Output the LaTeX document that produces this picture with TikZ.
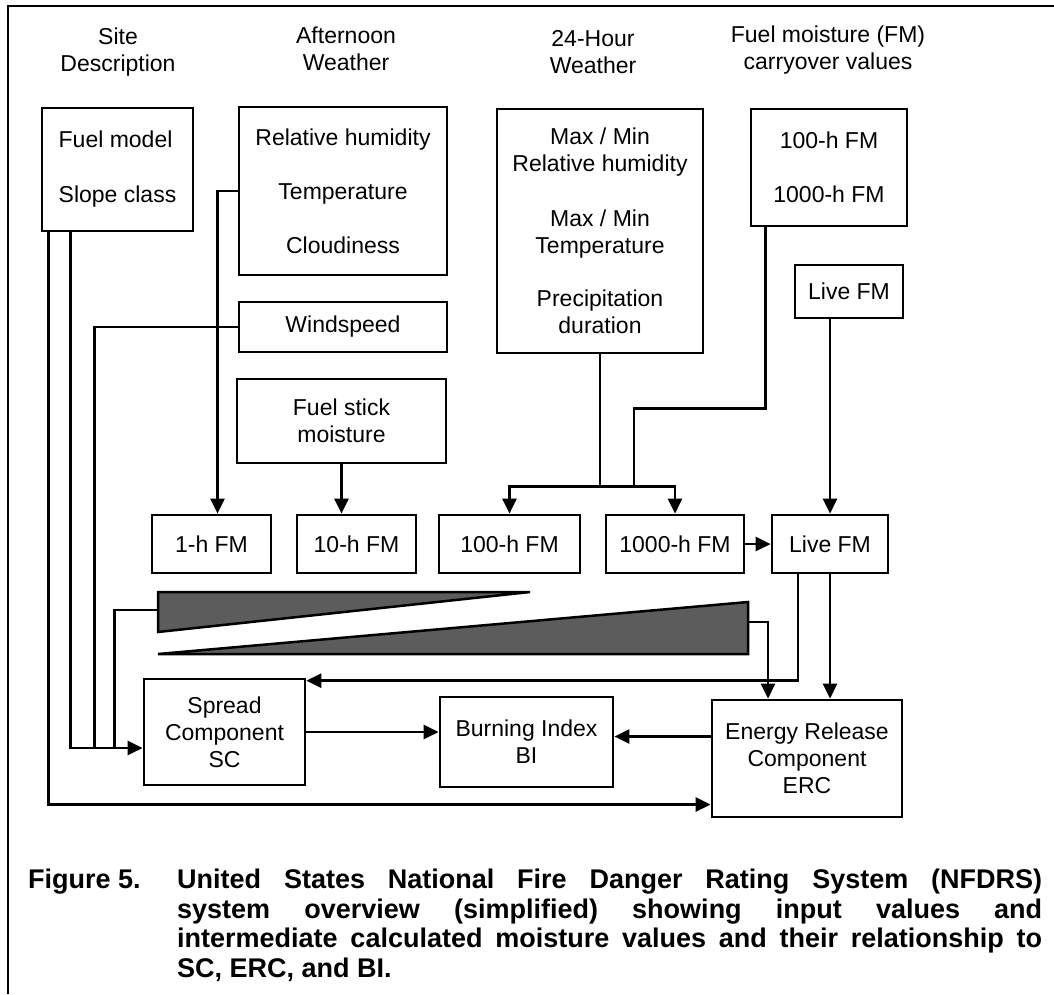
\documentclass[tikz,border=0pt]{standalone}
\usepackage{fontspec}
\setmainfont{Liberation Sans}
\usetikzlibrary{arrows.meta,calc}

\tikzset{
  box/.style={draw, line width=2.7pt, inner sep=0pt, align=center},
  head/.style={inner sep=0pt, align=center},
  link/.style={line width=2.7pt},
  arr/.style={link, -{Triangle[length=15pt,width=14pt]}},
  wedge/.style={draw, line width=2.5pt, fill=black!64, line join=miter},
  capt/.style={anchor=north west, inner sep=0pt, font=\bfseries\fontsize{27}{29.5}\selectfont}
}

\begin{document}
\begin{tikzpicture}[x=1pt, y=-1pt, font=\fontsize{23}{27}\selectfont]
    \useasboundingbox (0,0) rectangle (1054,994);

    % Cornice della pagina
    \draw[line width=1.5pt] (8,994) -- (8,6) -- (1054,6);

    % Intestazioni delle colonne
    \node[head] (sitehead) at (118,52) {Site\\Description};
    \node[head] (afthead) at (346,49) {Afternoon\\Weather};
    \node[head] (dayhead) at (593,52) {24-Hour\\Weather};
    \node[head] (carryhead) at (828,50) {Fuel moisture (FM)\\carryover values};

    % Valori di ingresso
    \node[box, minimum width=151pt, minimum height=123pt, align=left] (site) at (117.5,169.5) {Fuel model\\[28pt]Slope class};
    \node[box, minimum width=208pt, minimum height=168pt] (aft) at (343,191) {Relative humidity\\[27pt]Temperature\\[27pt]Cloudiness};
    \node[box, minimum width=208pt, minimum height=50pt] (wind) at (343,327) {Windspeed};
    \node[box, minimum width=209pt, minimum height=84pt] (stick) at (341.5,421) {Fuel stick\\moisture};
    \node[box, minimum width=206pt, minimum height=244pt] (day) at (600,231) {Max / Min\\Relative humidity\\[28pt]Max / Min\\Temperature\\[26pt]Precipitation\\duration};
    \node[box, minimum width=156pt, minimum height=117pt] (carry) at (829,167.5) {100-h FM\\[27pt]1000-h FM};
    \node[box, minimum width=108pt, minimum height=53pt] (livein) at (849,291.5) {Live FM};

    % Umidita' intermedie
    \node[box, minimum width=119pt, minimum height=58pt] (fm1) at (211.5,544) {1-h FM};
    \node[box, minimum width=119pt, minimum height=58pt] (fm10) at (356.5,544) {10-h FM};
    \node[box, minimum width=141pt, minimum height=58pt] (fm100) at (509.5,544) {100-h FM};
    \node[box, minimum width=138pt, minimum height=58pt] (fm1000) at (675,544) {1000-h FM};
    \node[box, minimum width=116pt, minimum height=58pt] (live) at (830,544) {Live FM};

    % Cunei
    \draw[wedge] (158,592) -- (530,592) -- (158,632) -- cycle;
    \draw[wedge] (158,654) -- (748,602) -- (748,654) -- cycle;
    \coordinate (wedgeA) at (158,610);
    \coordinate (wedgeB) at (748,622);

    % Componenti e indice
    \node[box, minimum width=161pt, minimum height=106pt] (sc) at (224.5,732) {Spread\\Component\\SC};
    \node[box, minimum width=173pt, minimum height=90pt] (bi) at (526.5,742) {Burning Index\\BI};
    \node[box, minimum width=190pt, minimum height=117pt] (erc) at (807,758.5) {Energy Release\\Component\\ERC};

    % Collegamenti
    \draw[arr] (aft.west) -| ([xshift=6pt]fm1.north);
    \draw[arr] (stick.south) -- (stick.south |- fm10.north);
    \coordinate (scin) at ([yshift=-16pt]sc.west);
    \draw[arr] ([xshift=30pt]site.south west) |- (scin);
    \draw[link] (wind.west) -| ([xshift=-48pt]scin);
    \draw[link] (wedgeA) -| ([xshift=-28pt]scin);
    \draw[arr] ([xshift=8pt]site.south west) |- ([yshift=-46pt]erc.west);
    \coordinate (fork) at ([yshift=-132pt]day.south);
    \draw[link] (day.south) -- (fork);
    \draw[arr] (fork) -| (fm100.north);
    \draw[arr] (fork) -| (fm1000.north);
    \draw[link] ([xshift=16pt]carry.south west) -- ++(0,181) -| ([xshift=34pt]fork);
    \draw[arr] (livein.south -| live.north) -- (live.north);
    \draw[arr] (fm1000.east) -- (live.west);
    \draw[arr] ([xshift=-32pt]live.south) |- ([yshift=-3pt]sc.north east);
    \draw[arr] (live.south) -- (live.south |- erc.north);
    \draw[arr] (wedgeB) -| ([xshift=-39pt]erc.north);
    \draw[arr] (sc.east) -- (sc.east -| bi.west);
    \draw[arr] ([yshift=22pt]erc.west) -- ([yshift=22pt]erc.west -| bi.east);

    % Didascalia
    \node[capt] (figlabel) at (28,868) {\strut Figure 5.};
    \node[capt, text width=865pt, align=justify] (caption) at (177,868)
      {\strut United States National Fire Danger Rating System (NFDRS)\linebreak
       system overview (simplified) showing input values and\linebreak
       intermediate calculated moisture values and their relationship to\linebreak
       SC, ERC, and BI.};
\end{tikzpicture}
\end{document}
